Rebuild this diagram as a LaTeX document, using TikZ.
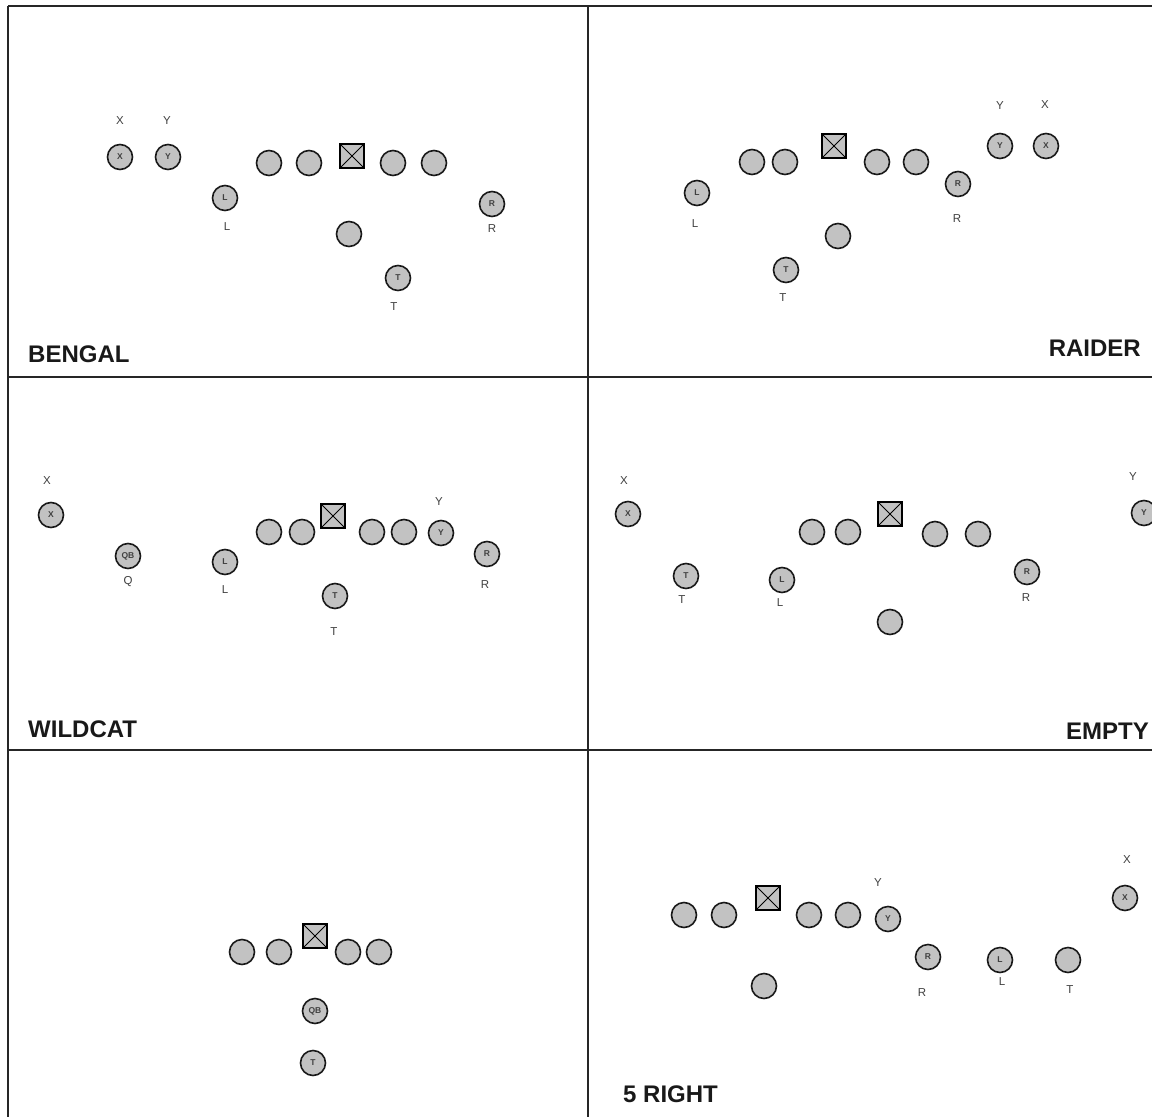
\documentclass[tikz,border=0pt]{standalone}
\usepackage{fontspec}
\setmainfont{Liberation Sans}
\begin{document}
\begin{tikzpicture}[x=1pt,y=-1pt,
  pl/.style={circle,draw=black!90,fill=black!24,line width=1.6pt,minimum size=25pt,inner sep=0pt,
    font=\bfseries\fontsize{8.5}{8.5}\selectfont,text=black!75},
  ctr/.style={rectangle,draw=black,fill=black!24,line width=2pt,minimum size=24pt,inner sep=0pt,
    path picture={\draw[line width=1pt] (path picture bounding box.north west) -- (path picture bounding box.south east)
      (path picture bounding box.north east) -- (path picture bounding box.south west);}},
  lab/.style={font=\fontsize{11.5}{11.5}\selectfont,text=black!75,inner sep=0pt},
  ttl/.style={font=\bfseries\fontsize{24}{24}\selectfont,text=black!90,inner sep=0pt},
  grid/.style={draw=black!85,line width=2pt}]
\useasboundingbox (0,0) rectangle (1152,1117);
\fill[white] (0,0) rectangle (1152,1117);
% frame and grid
\coordinate (tl) at (8,6); \coordinate (tr) at (1152,6);
\coordinate (bl) at (8,1117);
\coordinate (m1l) at (8,377); \coordinate (m1r) at (1152,377);
\coordinate (m2l) at (8,750); \coordinate (m2r) at (1152,750);
\coordinate (vt) at (588,6); \coordinate (vb) at (588,1117);
\draw[grid] (tl) -- (tr);
\draw[grid] (tl) -- (bl);
\draw[grid] (m1l) -- (m1r);
\draw[grid] (m2l) -- (m2r);
\draw[grid] (vt) -- (vb);

% ---------- BENGAL ----------
\node[pl] (aX) at (120,157) {X}; \node[lab] (aXl) at (120,121) {X};
\node[pl] (aY) at (168,157) {Y}; \node[lab] (aYl) at (167,121) {Y};
\node[pl] (aL) at (225,198) {L}; \node[lab] (aLl) at (227,227) {L};
\node[pl] (a1) at (269,163) {}; \node[pl] (a2) at (309,163) {};
\node[ctr] (aC) at (352,156) {};
\node[pl] (a3) at (393,163) {}; \node[pl] (a4) at (434,163) {};
\node[pl] (aB) at (349,234) {};
\node[pl] (aT) at (398,278) {T}; \node[lab] (aTl) at (394,307) {T};
\node[pl] (aR) at (492,204) {R}; \node[lab] (aRl) at (492,229) {R};
\node[ttl,anchor=base west] (aN) at (28,362) {BENGAL};

% ---------- RAIDER ----------
\node[pl] (bL) at (697,193) {L}; \node[lab] (bLl) at (695,224) {L};
\node[pl] (b1) at (752,162) {}; \node[pl] (b2) at (785,162) {};
\node[ctr] (bC) at (834,146) {};
\node[pl] (b3) at (877,162) {}; \node[pl] (b4) at (916,162) {};
\node[pl] (bB) at (838,236) {};
\node[pl] (bT) at (786,270) {T}; \node[lab] (bTl) at (783,298) {T};
\node[pl] (bR) at (958,184) {R}; \node[lab] (bRl) at (957,219) {R};
\node[pl] (bY) at (1000,146) {Y}; \node[lab] (bYl) at (1000,106) {Y};
\node[pl] (bX) at (1046,146) {X}; \node[lab] (bXl) at (1045,105) {X};
\node[ttl,anchor=base east] (bN) at (1141,356) {RAIDER};

% ---------- WILDCAT ----------
\node[pl] (cX) at (51,515) {X}; \node[lab] (cXl) at (47,481) {X};
\node[pl] (cQ) at (128,556) {QB}; \node[lab] (cQl) at (128,582) {Q};
\node[pl] (cL) at (225,562) {L}; \node[lab] (cLl) at (225,590) {L};
\node[pl] (c1) at (269,532) {}; \node[pl] (c2) at (302,532) {};
\node[ctr] (cC) at (333,516) {};
\node[pl] (c3) at (372,532) {}; \node[pl] (c4) at (404,532) {};
\node[pl] (cY) at (441,533) {Y}; \node[lab] (cYl) at (439,502) {Y};
\node[pl] (cR) at (487,554) {R}; \node[lab] (cRl) at (485,585) {R};
\node[pl] (cT) at (335,596) {T}; \node[lab] (cTl) at (334,632) {T};
\node[ttl,anchor=base west] (cN) at (28,737) {WILDCAT};

% ---------- EMPTY ----------
\node[pl] (dX) at (628,514) {X}; \node[lab] (dXl) at (624,481) {X};
\node[pl] (dT) at (686,576) {T}; \node[lab] (dTl) at (682,600) {T};
\node[pl] (dL) at (782,580) {L}; \node[lab] (dLl) at (780,603) {L};
\node[pl] (d1) at (812,532) {}; \node[pl] (d2) at (848,532) {};
\node[ctr] (dC) at (890,514) {};
\node[pl] (d3) at (935,534) {}; \node[pl] (d4) at (978,534) {};
\node[pl] (dB) at (890,622) {};
\node[pl] (dR) at (1027,572) {R}; \node[lab] (dRl) at (1026,598) {R};
\node[pl] (dY) at (1144,513) {Y}; \node[lab] (dYl) at (1133,477) {Y};
\node[ttl,anchor=base east] (dN) at (1149,739) {EMPTY};

% ---------- bottom left ----------
\node[pl] (e1) at (242,952) {}; \node[pl] (e2) at (279,952) {};
\node[ctr] (eC) at (315,936) {};
\node[pl] (e3) at (348,952) {}; \node[pl] (e4) at (379,952) {};
\node[pl] (eQ) at (315,1011) {QB};
\node[pl] (eT) at (313,1063) {T};

% ---------- 5 RIGHT ----------
\node[pl] (f1) at (684,915) {}; \node[pl] (f2) at (724,915) {};
\node[ctr] (fC) at (768,898) {};
\node[pl] (f3) at (809,915) {}; \node[pl] (f4) at (848,915) {};
\node[pl] (fY) at (888,919) {Y}; \node[lab] (fYl) at (878,883) {Y};
\node[pl] (fB) at (764,986) {};
\node[pl] (fR) at (928,957) {R}; \node[lab] (fRl) at (922,993) {R};
\node[pl] (fL) at (1000,960) {L}; \node[lab] (fLl) at (1002,982) {L};
\node[pl] (fT) at (1068,960) {}; \node[lab] (fTl) at (1070,990) {T};
\node[pl] (fX) at (1125,898) {X}; \node[lab] (fXl) at (1127,860) {X};
\node[ttl,anchor=base west] (fN) at (623,1102) {5 RIGHT};
\end{tikzpicture}
\end{document}
